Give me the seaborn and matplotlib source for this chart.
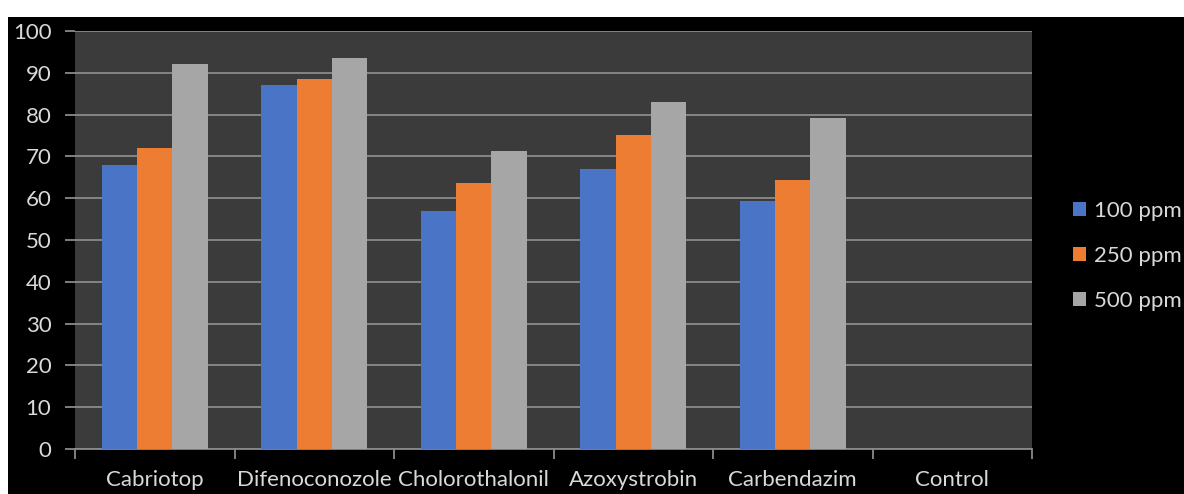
import pandas as pd
import matplotlib
matplotlib.use('Agg')
import matplotlib.pyplot as plt
from matplotlib.patches import Rectangle
import seaborn as sns

fungicides = ['Cabriotop', 'Difenoconozole', 'Cholorothalonil', 'Azoxystrobin', 'Carbendazim', 'Control']
doses = ['100 ppm', '250 ppm', '500 ppm']
ppm100 = [68, 87, 57, 67, 59.3, 0]
ppm250 = [72, 88.5, 63.6, 75.1, 64.4, 0]
ppm500 = [92, 93.6, 71.4, 83, 79.2, 0]
colors = ['#4a74c6', '#ee7d34', '#a6a6a6']

rows = []
for d, vals in zip(doses, [ppm100, ppm250, ppm500]):
    for f, v in zip(fungicides, vals):
        rows.append({'Fungicide': f, 'Dose': d, 'Value': v})
data = pd.DataFrame(rows)

sns.set_style('dark')
plt.rcParams['font.family'] = ['Lato', 'DejaVu Sans']
txt = '#d9d9d9'
FS = 16

fig = plt.figure(figsize=(11.84, 4.94), dpi=100, facecolor='black')
# white strip at top and left edge
fig.patches.append(Rectangle((0, 1 - 17 / 494), 1, 17 / 494, transform=fig.transFigure,
                             facecolor='white', edgecolor='none', zorder=0))
fig.patches.append(Rectangle((0, 0), 8 / 1184, 1, transform=fig.transFigure,
                             facecolor='white', edgecolor='none', zorder=0))

ax = fig.add_axes([75 / 1184, 45 / 494, (1032 - 75) / 1184, (449 - 31) / 494])
ax.set_facecolor('#3b3b3b')

sns.barplot(data=data, x='Fungicide', y='Value', hue='Dose', order=fungicides,
            hue_order=doses, palette=colors, width=0.665, saturation=1,
            errorbar=None, ax=ax, zorder=3, linewidth=0)

ax.set_ylim(0, 100)
ax.set_xlim(-0.5, 5.5)
ax.set_yticks(range(0, 101, 10))
ax.grid(axis='y', color='#8a8a8a', linewidth=1.3, zorder=0)
ax.grid(axis='x', visible=False)
ax.set_axisbelow(True)

for s in ['top', 'right', 'left']:
    ax.spines[s].set_visible(False)
ax.spines['bottom'].set_color('#8a8a8a')
ax.spines['bottom'].set_linewidth(1.3)

ax.tick_params(axis='y', colors='#8a8a8a', labelcolor=txt, length=7, width=1.3,
               pad=10, labelsize=FS, left=True)
ax.tick_params(axis='x', which='major', length=0, pad=15, labelcolor=txt, labelsize=FS)
ax.set_xticks([i - 0.5 for i in range(7)], minor=True)
ax.tick_params(axis='x', which='minor', length=7, width=1.3, color='#8a8a8a', bottom=True)
ax.set_xlabel('')
ax.set_ylabel('')

ax.legend(loc='center left', bbox_to_anchor=(1073 / 1184, (494 - 256) / 494),
          bbox_transform=fig.transFigure, frameon=False, borderpad=0, borderaxespad=0,
          labelcolor=txt, fontsize=FS, handlelength=0.6, handleheight=0.6,
          handletextpad=0.35, labelspacing=1.12)

fig.savefig('out.png', dpi=100, facecolor=fig.get_facecolor())
